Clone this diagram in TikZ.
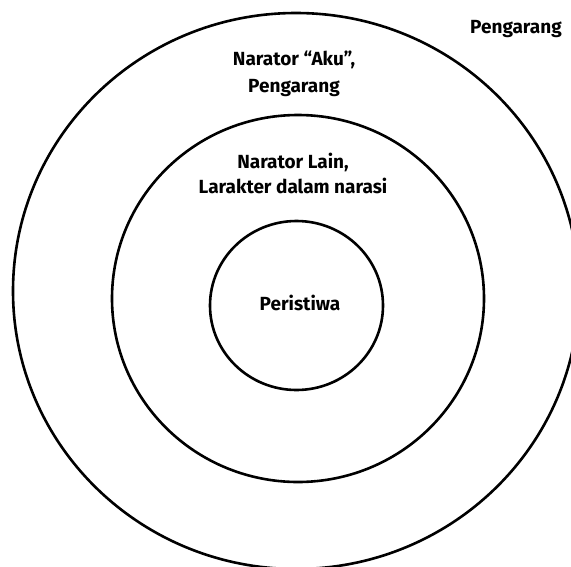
\documentclass[tikz,border=0pt]{standalone}
\usepackage{fontspec}
\setmainfont{Fira Sans}[UprightFont=* Bold]
\begin{document}
\begin{tikzpicture}[x=1pt,y=-1pt,
  ring/.style={draw=black,line width=2.6pt},
  lbl/.style={align=center,inner sep=0pt}]
\useasboundingbox (0,0) rectangle (571,566);
\draw[ring] (296,291) ellipse [x radius=283, y radius=278];
\draw[ring] (298,298.5) ellipse [x radius=186, y radius=183.5];
\draw[ring] (296.5,305.5) ellipse [x radius=86.5, y radius=84.5];
\node[lbl,anchor=base,font=\fontsize{19}{25}\selectfont] (outer) at (516,33) {Pengarang};
\node[lbl,font=\fontsize{19}{27}\selectfont] (mid1) at (294,74) {Narator ``Aku'',\\Pengarang};
\node[lbl,font=\fontsize{19}{25}\selectfont] (mid2) at (293,173.5) {Narator Lain,\\Larakter dalam narasi};
\node[lbl,anchor=base,font=\fontsize{19}{25}\selectfont] (inner) at (300,310) {Peristiwa};
\end{tikzpicture}
\end{document}
